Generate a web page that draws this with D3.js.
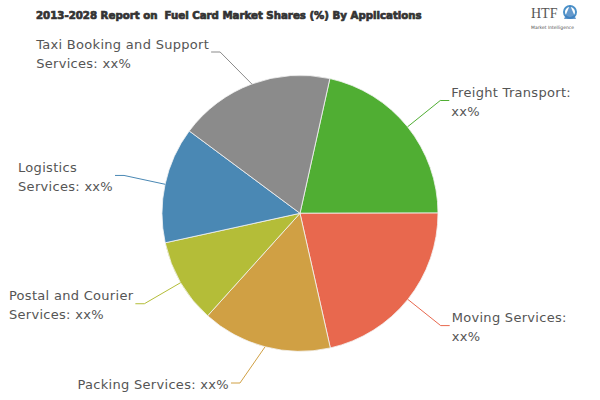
<!DOCTYPE html>
<html><head><meta charset="utf-8">
<script src="https://cdn.jsdelivr.net/npm/d3@7"></script>
<style>body{margin:0;background:#fff}svg{display:block}</style>
</head><body>
<svg id="chart" width="600" height="400"></svg>
<script>
const titleText = "2013-2028 Report on  Fuel Card Market Shares (%) By Applications";
const categories = ["Freight Transport", "Moving Services", "Packing Services", "Postal and Courier Services", "Logistics Services", "Taxi Booking and Support Services"];
const values = [21.5, 21.5, 15.2, 9.9, 13.6, 18.3];
const labelLines = [["Freight Transport:", "xx%"], ["Moving Services:", "xx%"], ["Packing Services: xx%"], ["Postal and Courier", "Services: xx%"], ["Logistics", "Services: xx%"], ["Taxi Booking and Support", "Services: xx%"]];
const colors = ["#50ae33", "#e8684e", "#d0a044", "#b4bd38", "#4a88b4", "#8b8b8b"];

const svg = d3.select("#chart");
const cx = 300, cy = 213.3, R = 138, R2 = 180, hLen = 9;
const a0 = 12.5 * Math.PI / 180;

// title: size it so its natural width is about 386px
const title = svg.append("text").attr("x", 36).attr("y", 21)
  .style("white-space", "pre")
  .attr("font-family", "'Liberation Sans Narrow','DejaVu Sans Condensed',sans-serif")
  .attr("font-weight", "bold").attr("font-size", 16).attr("fill", "#333")
  .attr("stroke", "#333").attr("stroke-width", 0.7)
  .text(titleText);
const tw = title.node().getComputedTextLength();
const tfs = Math.min(17, 16 * 386 / tw);
title.attr("font-size", tfs).attr("y", 15 + tfs * 0.36);

// logo
const logo = svg.append("g");
logo.append("text").attr("x", 531).attr("y", 18).attr("font-family", "'Liberation Serif',serif")
  .attr("font-size", 14).attr("fill", "#555").text("HTF");
logo.append("circle").attr("cx", 570).attr("cy", 12).attr("r", 6).attr("fill", "none").attr("stroke", "#4a90c8").attr("stroke-width", 2);
logo.append("path").attr("d", "M564,19 L570,5 L576,19 Z").attr("fill", "#3d7fbf").attr("opacity", 0.8);
logo.append("text").attr("x", 531).attr("y", 29).attr("font-family", "'DejaVu Sans',sans-serif")
  .attr("font-size", 4.5).attr("fill", "#555").text("Market Intelligence");

const data = categories.map((c, i) => ({ name: c, value: values[i], lines: labelLines[i], color: colors[i] }));
const pie = d3.pie().value(d => d.value).sort(null).startAngle(a0).endAngle(a0 + 2 * Math.PI);
const arcs = pie(data);
const arc = d3.arc().innerRadius(0).outerRadius(R);

const g = svg.append("g").attr("transform", `translate(${cx},${cy})`);
g.selectAll("path.slice").data(arcs).enter().append("path")
  .attr("class", "slice").attr("d", arc)
  .attr("fill", d => d.data.color).attr("stroke", "#f4f4f4").attr("stroke-width", 0.8);

// labels
const fontFam = "'DejaVu Sans',Verdana,sans-serif";
const fs = 13, lh = 19;
arcs.forEach(a => {
  const m = (a.startAngle + a.endAngle) / 2;
  const sx = R * Math.sin(m), sy = -R * Math.cos(m);
  let ex = R2 * Math.sin(m), ey = -R2 * Math.cos(m);
  const right = ex >= 0;
  const minY = 52 - cy, maxY = 383 - cy;
  if (ey < minY || ey > maxY) {
    ey = Math.max(minY, Math.min(maxY, ey));
    ex = (right ? 1 : -1) * Math.sqrt(Math.max(0, R2 * R2 - ey * ey));
  }
  const hx = ex + (right ? hLen : -hLen);
  g.append("polyline").attr("points", [[sx, sy], [ex, ey], [hx, ey]].map(p => p.join(",")).join(" "))
    .attr("fill", "none").attr("stroke", a.data.color).attr("stroke-width", 1);
  const t = g.append("text").attr("font-family", fontFam).attr("font-size", fs)
    .attr("letter-spacing", 0.3).attr("fill", "#555");
  const n = a.data.lines.length;
  const spans = a.data.lines.map((ln, i) => t.append("tspan").attr("x", 0)
    .attr("y", ey + 1.5 + (i - (n - 1) / 2) * lh).attr("dominant-baseline", "central").text(ln));
  let tx;
  if (right) tx = hx + 2;
  else {
    const w = d3.max(spans, s => s.node().getComputedTextLength());
    tx = hx - 2 - w;
  }
  spans.forEach(s => s.attr("x", tx));
});
</script>
</body></html>
